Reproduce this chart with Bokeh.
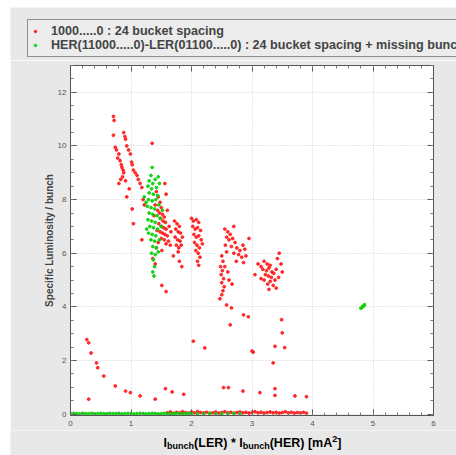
from bokeh.plotting import figure
from bokeh.models import (ColumnDataSource, Legend, LegendItem, LinearAxis, Label,
                          FixedTicker, Range1d, Spacer)
from bokeh.layouts import column, row
from bokeh.embed import file_html
from bokeh.resources import INLINE

# ---------------- data ----------------
red_x = [0.71, 0.72, 0.71, 0.74, 0.76, 0.80, 0.78, 0.82, 0.84, 0.85, 0.87, 0.88, 0.86, 0.80, 0.83, 0.91,
         0.88, 0.90, 0.91, 0.93, 0.96, 0.99, 1.01, 1.02, 1.04, 1.07, 1.10, 1.12, 1.15, 1.18, 0.93, 0.97,
         1.02, 1.04, 1.35, 1.18, 1.20, 1.22,
         1.42, 1.45, 1.48, 1.50, 1.44, 1.47, 1.52, 1.55, 1.49, 1.53, 1.57, 1.46, 1.50, 1.54, 1.58, 1.43,
         1.48, 1.52, 1.56, 1.60, 1.50, 1.55, 1.62, 1.45, 1.58, 1.65, 1.40, 1.38, 1.60, 1.63, 1.66, 1.42,
         1.51, 1.56, 1.58, 1.36, 1.40,
         1.72, 1.76, 1.80, 1.74, 1.78, 1.82, 1.73, 1.77, 1.81, 1.85, 1.75, 1.79, 1.83, 1.78, 1.80, 1.84, 1.70,
         2.00, 2.03, 2.08, 2.12, 2.02, 2.06, 2.10, 2.15, 2.04, 2.08, 2.12, 2.16, 2.05, 2.09, 2.13, 2.07,
         2.11, 2.14, 2.10, 2.12, 2.18,
         2.55, 2.60, 2.64, 2.58, 2.62, 2.68, 2.72, 2.56, 2.66, 2.75, 2.80, 2.85, 2.88, 2.70, 2.78, 2.83,
         2.90, 2.74, 2.86, 2.50, 2.52, 2.48, 2.51, 2.49, 2.53, 2.50, 2.54, 2.52, 2.50, 2.55, 2.60, 2.62,
         2.67, 2.58, 2.95, 2.70,
         3.10, 3.15, 3.20, 3.25, 3.30, 3.18, 3.24, 3.28, 3.33, 3.22, 3.27, 3.32, 3.36, 3.40, 3.20, 3.30,
         3.38, 3.26, 3.35, 3.42, 3.45, 3.48, 3.50, 3.15, 3.05, 3.44, 3.28, 3.40,
         1.51, 1.58, 2.47, 2.58, 2.66, 2.86, 2.94, 2.64, 3.49, 3.50, 3.38, 3.54, 3.35, 3.00, 3.02, 2.03,
         2.22, 2.53, 2.61, 2.85, 3.13, 3.38, 3.38, 3.71, 3.90,
         0.27, 0.30, 0.34, 0.43, 0.45, 0.55, 0.74, 0.91, 0.99, 1.15, 1.40, 1.57, 1.68, 1.87, 0.30,
         1.60, 1.65, 1.70, 1.75, 1.80, 1.85, 1.90, 1.95, 2.00, 2.05, 2.10, 2.15, 2.20, 2.25, 2.30, 2.35,
         2.40, 2.45, 2.50, 2.55, 2.60, 2.65, 2.70, 2.75, 2.80, 2.85, 2.90, 2.95, 3.00, 3.05, 3.10, 3.15,
         3.20, 3.25, 3.30, 3.35, 3.40, 3.45, 3.50, 3.55, 3.60, 3.65, 3.70, 3.75, 3.80, 3.85, 3.90]
red_y = [11.1, 10.95, 10.4, 9.95, 9.85, 9.7, 9.55, 9.45, 9.3, 9.2, 9.1, 9.0, 8.85, 8.6, 8.75, 8.7,
         10.5, 10.35, 10.25, 10.0, 9.85, 9.7, 9.4, 9.3, 9.1, 9.0, 8.9, 8.75, 8.6, 8.45, 8.1, 8.4,
         7.65, 7.1, 10.1, 6.5, 8.0, 7.8,
         8.3, 8.1, 7.9, 7.7, 7.6, 7.5, 7.45, 7.35, 7.3, 7.2, 7.15, 7.1, 7.0, 6.95, 6.9, 6.85,
         6.8, 6.75, 6.7, 6.65, 6.55, 6.5, 6.45, 6.4, 6.35, 6.3, 7.8, 7.4, 7.6, 7.0, 6.8, 6.2,
         6.1, 8.6, 8.2, 5.8, 5.6,
         7.2, 7.1, 7.0, 6.9, 6.8, 6.75, 6.6, 6.5, 6.45, 6.6, 6.3, 6.2, 6.3, 6.05, 5.7, 5.5, 5.9,
         7.3, 7.2, 7.25, 7.15, 7.0, 6.9, 6.95, 6.85, 6.7, 6.6, 6.65, 6.5, 6.4, 6.3, 6.2, 6.1,
         6.0, 5.85, 5.7, 5.55, 6.35,
         6.9, 6.8, 6.7, 6.6, 6.5, 6.55, 6.4, 6.3, 6.25, 6.2, 6.1, 6.3, 6.15, 6.0, 5.95, 5.85,
         5.9, 5.7, 5.65, 5.9, 5.7, 5.5, 5.35, 5.2, 5.05, 4.9, 4.75, 4.6, 4.45, 5.5, 5.3, 5.0,
         4.85, 6.05, 6.55, 7.0,
         5.6, 5.5, 5.7, 5.6, 5.55, 5.4, 5.35, 5.45, 5.3, 5.2, 5.15, 5.1, 5.25, 5.4, 5.0, 4.95,
         5.0, 4.85, 4.8, 5.8, 6.0, 5.6, 5.3, 5.05, 5.2, 5.1, 4.65, 4.7,
         4.8, 4.57, 4.3, 4.07, 3.96, 3.7, 3.63, 3.33, 3.52, 3.03, 2.53, 2.48, 1.91, 2.35, 2.31, 2.72,
         2.47, 0.99, 0.99, 0.86, 0.80, 0.95, 0.70, 0.68, 0.65,
         2.78, 2.66, 2.28, 1.91, 1.73, 1.42, 1.05, 0.86, 0.80, 0.68, 0.56, 0.95, 0.83, 0.74, 0.56,
         0.05, 0.08, 0.04, 0.07, 0.05, 0.09, 0.06, 0.04, 0.08, 0.05, 0.10, 0.06, 0.05, 0.07, 0.04, 0.05,
         0.08, 0.04, 0.06, 0.09, 0.05, 0.07, 0.04, 0.06, 0.08, 0.05, 0.07, 0.04, 0.06, 0.09, 0.05, 0.07,
         0.04, 0.06, 0.08, 0.05, 0.07, 0.04, 0.06, 0.09, 0.05, 0.07, 0.04, 0.06, 0.05, 0.07, 0.04]

green_x = [1.35, 1.33, 1.30, 1.36, 1.40, 1.45, 1.28, 1.34, 1.42, 1.47, 1.30, 1.37, 1.44, 1.29, 1.35, 1.41,
           1.27, 1.33, 1.39, 1.46, 1.30, 1.36, 1.43, 1.28, 1.34, 1.40, 1.31, 1.37, 1.44, 1.29, 1.35, 1.41,
           1.33, 1.39, 1.36, 1.42, 1.34, 1.40, 1.37, 1.39, 1.36, 1.38, 1.25, 1.22, 1.48, 1.50, 1.47, 1.45,
           1.52, 1.26,
           4.80, 4.83, 4.86, 4.82, 4.85,
           0.00, 0.05, 0.10, 0.15, 0.20, 0.25, 0.30, 0.35, 0.40, 0.45, 0.50, 0.55, 0.60, 0.65, 0.70, 0.75,
           0.80, 0.85, 0.90, 0.95, 1.00, 1.05, 1.10, 1.15, 1.20, 1.25, 1.30, 1.35, 1.40, 1.45, 1.50, 1.55,
           1.60, 1.65, 1.70, 1.75, 1.80, 1.85, 1.90, 1.95, 2.00, 2.10, 2.20, 2.30, 2.40, 2.50, 2.60, 2.70,
           2.80]
green_y = [9.2, 8.9, 8.7, 8.6, 8.75, 8.85, 8.5, 8.4, 8.45, 8.6, 8.25, 8.2, 8.15, 8.0, 7.95, 8.0,
           7.75, 7.7, 7.65, 7.8, 7.5, 7.45, 7.4, 7.25, 7.2, 7.15, 7.0, 6.95, 6.9, 6.75, 6.7, 6.65,
           6.5, 6.45, 6.25, 6.2, 6.0, 5.95, 5.75, 5.5, 5.3, 5.15, 7.9, 8.1, 7.3, 7.0, 6.5, 6.05,
           7.6, 6.9,
           3.95, 4.02, 4.08, 3.98, 4.04,
           0.02, 0.03, 0.02, 0.01, 0.03, 0.02, 0.02, 0.03, 0.01, 0.02, 0.03, 0.02, 0.01, 0.03, 0.02, 0.02,
           0.03, 0.01, 0.02, 0.03, 0.02, 0.01, 0.02, 0.03, 0.02, 0.01, 0.02, 0.03, 0.02, 0.01, 0.02, 0.03,
           0.02, 0.01, 0.02, 0.03, 0.02, 0.01, 0.02, 0.03, 0.02, 0.01, 0.02, 0.03, 0.02, 0.01, 0.02, 0.03,
           0.02]

red_label = "1000.....0 : 24 bucket spacing"
green_label = "HER(11000.....0)-LER(01100.....0) : 24 bucket spacing + missing bunch"
y_title = "Specific Luminosity / bunch"
x_title_parts = ["I", "bunch", "(LER) * I", "bunch", "(HER) [mA", "2", "]"]
x_ticks = [0, 1, 2, 3, 4, 5, 6]
y_ticks = [0, 2, 4, 6, 8, 10, 12]
x_minor = [i * 0.2 for i in range(31)]
y_minor = [i * 0.5 for i in range(27)]

GREY = "#e8e8e8"
RED = "#ff1a1a"
GREEN = "#10d010"
W = 446

# ---------------- main plot ----------------
p = figure(width=W, height=370, output_backend="svg", toolbar_location=None,
           x_range=Range1d(0, 6), y_range=Range1d(-0.05, 13),
           min_border_left=60, min_border_right=23, min_border_top=5, min_border_bottom=15,
           background_fill_color="white", border_fill_color=GREY)
p.outline_line_color = "#555555"

for ax in p.axis:
    ax.major_tick_in = 6
    ax.major_tick_out = 0
    ax.minor_tick_in = 3
    ax.minor_tick_out = 0
    ax.axis_line_color = "#555555"
    ax.major_tick_line_color = "#555555"
    ax.minor_tick_line_color = "#777777"
    ax.major_label_text_font_size = "8px"
    ax.major_label_text_color = "#555555"
    ax.major_label_text_font = "Liberation Sans"

p.xaxis.ticker = FixedTicker(ticks=x_ticks, minor_ticks=x_minor)
p.yaxis.ticker = FixedTicker(ticks=y_ticks, minor_ticks=y_minor)
p.yaxis.axis_label = y_title
p.yaxis.axis_label_text_font_size = "10px"
p.yaxis.axis_label_text_font = "Liberation Sans"
p.yaxis.axis_label_text_font_style = "bold"
p.yaxis.axis_label_standoff = 0
p.xaxis.major_label_standoff = 5
p.yaxis.major_label_standoff = 4

for side, tick, minors in (("right", y_ticks, y_minor), ("above", x_ticks, x_minor)):
    a = LinearAxis(ticker=FixedTicker(ticks=tick, minor_ticks=minors),
                   major_label_overrides={t: "" for t in tick}, major_label_standoff=0,
                   major_tick_in=6, major_tick_out=0,
                   minor_tick_in=3, minor_tick_out=0, axis_line_color="#555555",
                   major_tick_line_color="#555555", minor_tick_line_color="#777777")
    p.add_layout(a, side)

p.xgrid.ticker = FixedTicker(ticks=x_ticks)
p.ygrid.ticker = FixedTicker(ticks=y_ticks)
p.grid.grid_line_color = "#cfcfcf"
p.grid.grid_line_dash = "1 2"

rs = ColumnDataSource(dict(x=red_x, y=red_y))
gs = ColumnDataSource(dict(x=green_x, y=green_y))
p.scatter("x", "y", source=rs, size=2.8, color=RED, alpha=0.9)
p.scatter("x", "y", source=gs, size=2.8, color=GREEN, alpha=0.95)

# ---------------- legend strip ----------------
lg = figure(width=W, height=53, output_backend="svg", toolbar_location=None,
            x_axis_location=None, y_axis_location=None, min_border=0,
            x_range=Range1d(0, 1), y_range=Range1d(0, 1),
            background_fill_color=GREY, border_fill_color=GREY)
lg.outline_line_color = None
lg.grid.visible = False
lr = lg.scatter(x=[-5], y=[-5], size=2, color=RED)
lgn = lg.scatter(x=[-5], y=[-5], size=2, color=GREEN)
legend = Legend(items=[LegendItem(label=red_label, renderers=[lr]),
                       LegendItem(label=green_label, renderers=[lgn])],
                location=(17, 3), orientation="vertical",
                label_text_font_size="12.6px", label_text_font="Liberation Sans",
                label_text_font_style="bold", label_height=12, glyph_height=6,
                glyph_width=6, label_standoff=13, spacing=0, padding=4, margin=0,
                border_line_color="#333333", border_line_width=1,
                background_fill_color="#ececec", background_fill_alpha=1)
lg.add_layout(legend)

# ---------------- x-axis title strip ----------------
xl = figure(width=W, height=25, output_backend="svg", toolbar_location=None,
            x_axis_location=None, y_axis_location=None, min_border=0,
            x_range=Range1d(0, 1), y_range=Range1d(0, 1),
            background_fill_color=GREY, border_fill_color=GREY)
xl.outline_line_color = None
xl.grid.visible = False
styles = [(12.5, 0), (9, -3), (12.5, 0), (9, -3), (12.5, 0), (9, 4), (12.5, 0)]
widths = [3.5, 27.0, 48.6, 27.0, 62.5, 5.0, 4.2]
x0 = 242 - sum(widths) / 2
for txt, (fs, dy), w in zip(x_title_parts, styles, widths):
    xl.add_layout(Label(x=x0, y=13 + dy, x_units="screen", y_units="screen", text=txt,
                        text_font_size=f"{fs}px", text_font="Liberation Sans",
                        text_font_style="bold", text_color="black",
                        text_align="left", text_baseline="alphabetic"))
    x0 += w

for fig in (p, lg, xl):
    fig.frame_align = False

layout = column(Spacer(height=7),
                row(Spacer(width=10), column(lg, p, xl, spacing=0), spacing=0),
                spacing=0)
open("out.html", "w").write(file_html(layout, INLINE))
